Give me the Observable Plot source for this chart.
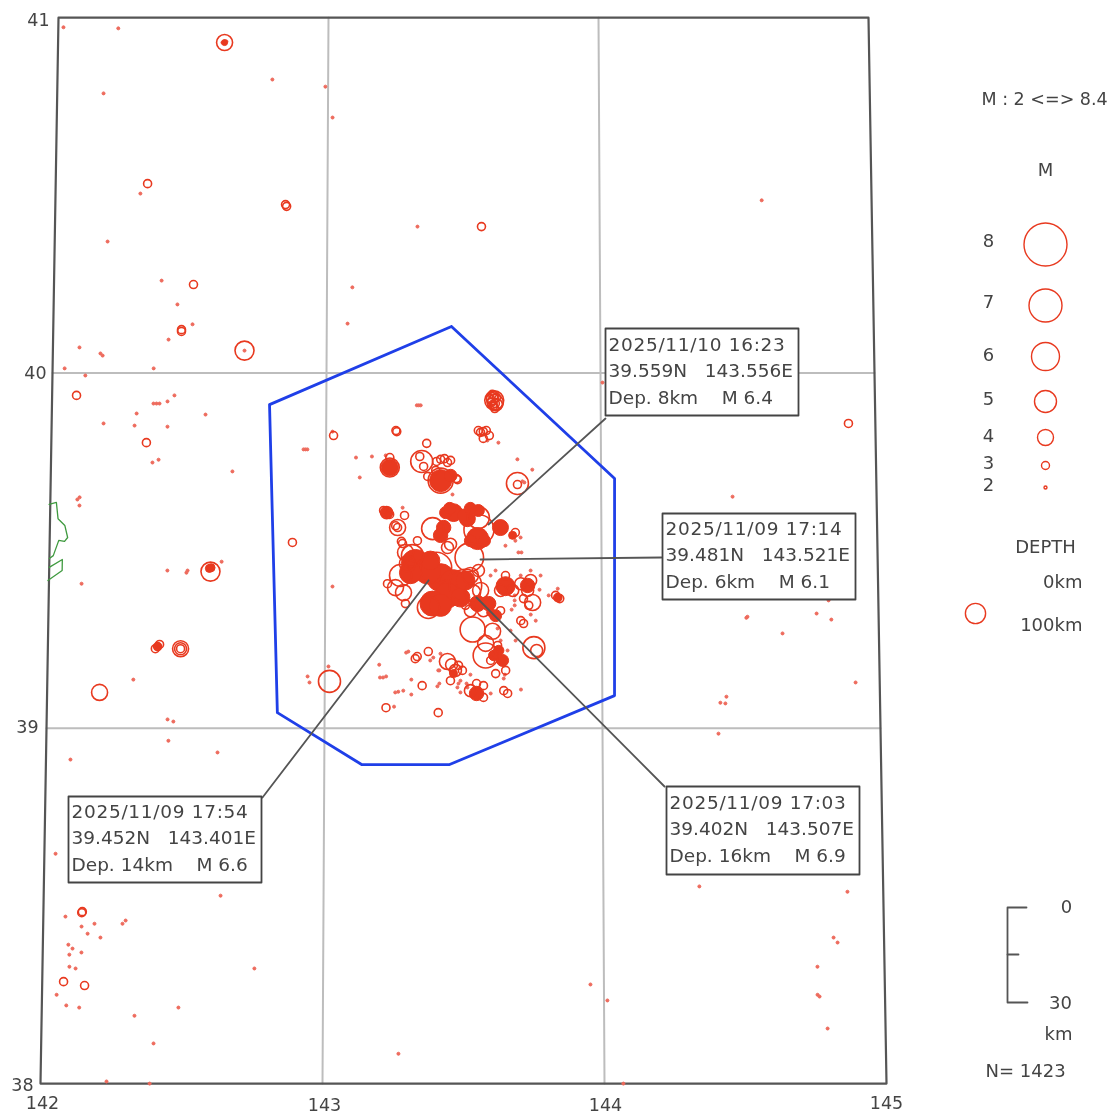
<!DOCTYPE html>
<html><head><meta charset="utf-8">
<script src="https://cdn.jsdelivr.net/npm/d3@7"></script>
<script src="https://cdn.jsdelivr.net/npm/@observablehq/plot@0.6"></script>
<style>html,body{margin:0;padding:0;background:#fff}svg{display:block;filter:blur(0.55px)}</style>
</head><body><div id="c"></div>
<script>
// ---------- data: [lon, lat] per magnitude class ----------
const m2 = [[142.019,40.973],[142.222,40.97],[142.794,40.826],[142.171,40.787],[142.99,40.806],[143.017,40.719],[142.312,40.505],[142.194,40.37],[142.394,40.26],[142.453,40.193],[142.509,40.137],[142.422,40.094],[142.097,40.072],[142.182,40.049],[142.174,40.055],[142.044,40.013],[142.369,40.013],[142.12,39.993],[142.446,39.937],[142.421,39.92],[142.381,39.914],[142.37,39.914],[142.392,39.914],[142.309,39.886],[142.189,39.858],[142.302,39.852],[142.422,39.849],[142.56,39.883],[142.391,39.756],[142.369,39.748],[142.66,39.723],[142.106,39.65],[142.098,39.644],[142.106,39.627],[142.428,39.444],[142.497,39.438],[142.501,39.444],[142.624,39.469],[142.118,39.407],[142.31,39.137],[142.435,39.025],[142.456,39.019],[142.439,38.965],[142.616,38.932],[142.088,38.912],[142.04,38.647],[142.632,38.529],[142.079,38.47],[142.183,38.45],[142.137,38.442],[142.159,38.422],[142.205,38.411],[142.294,38.459],[142.283,38.45],[142.091,38.391],[142.106,38.38],[142.095,38.363],[142.138,38.369],[142.096,38.329],[142.118,38.324],[142.755,38.324],[142.052,38.25],[142.087,38.22],[142.133,38.214],[142.33,38.191],[142.486,38.214],[142.399,38.113],[142.234,38.006],[142.387,38],[143.331,40.412],[143.093,40.241],[143.076,40.139],[144.596,40.486],[144.007,39.973],[144.477,39.652],[144.526,39.314],[144.522,39.311],[144.776,39.323],[144.829,39.306],[144.82,39.36],[144.652,39.267],[144.913,39.129],[144.447,39.089],[144.425,39.072],[144.443,39.07],[144.417,38.985],[144.343,38.555],[144.872,38.54],[144.82,38.411],[144.834,38.397],[144.761,38.329],[144.76,38.25],[144.767,38.245],[144.794,38.155],[143.952,38.279],[144.012,38.234],[143.269,38.084],[144.067,38],[143.023,39.835],[142.925,39.785],[142.918,39.785],[142.932,39.785],[143.026,39.399],[143.013,39.174],[142.938,39.146],[142.945,39.129],[142.608,40.93],[142.616,40.933],[142.623,40.933],[142.7,40.063],
[143.33,39.909],[143.337,39.909],[143.344,39.909],[143.109,39.762],[143.167,39.765],[143.123,39.706],[143.217,39.768],[143.46,39.658],[143.696,39.757],[143.75,39.728],[143.714,39.695],[143.721,39.692],[143.279,39.621],[143.587,39.81],[143.627,39.804],[143.707,39.537],[143.688,39.528],[143.699,39.495],[143.71,39.495],[143.652,39.514],[143.841,39.393],[143.775,39.39],[143.761,39.303],[143.743,39.32],[143.674,39.334],[143.685,39.374],[143.685,39.36],[143.685,39.346],[143.659,39.219],[143.645,39.177],[143.645,39.14],[143.649,39.151],[143.417,39.21],[143.38,39.191],[143.391,39.199],[143.293,39.213],[143.301,39.216],[143.196,39.179],[143.21,39.143],[143.199,39.143],[143.221,39.146],[143.312,39.137],[143.409,39.163],[143.413,39.163],[143.413,39.126],[143.406,39.118],[143.265,39.103],[143.254,39.101],[143.283,39.106],[143.312,39.095],[143.25,39.061],[143.525,39.151],[143.482,39.126],[143.489,39.134],[143.478,39.115],[143.514,39.115],[143.511,39.126],[143.598,39.098],[143.707,39.109],[143.489,39.101],[143.67,39.275],[143.688,39.247],[143.634,39.247],[143.623,39.281],[143.779,39.43],[143.743,39.444],[143.808,39.374],[143.707,39.43],[143.598,39.43],[143.616,39.444]];
const m3 = [[142.338,40.533],[142.85,40.469],[142.846,40.474],[142.511,40.249],[142.469,40.122],[142.469,40.117],[142.089,39.937],[142.346,39.804],[143.566,40.412],[142.396,39.23],[142.388,39.224],[142.403,39.236],[143.027,39.824],[142.88,39.523],[142.139,38.484],[142.137,38.481],[142.076,38.287],[142.151,38.276],[144.902,39.858],[142.479,39.224],
[143.257,39.835],[143.254,39.838],[143.562,39.833],[143.572,39.835],[143.583,39.838],[143.554,39.838],[143.594,39.824],[143.572,39.816],[143.366,39.802],[143.232,39.762],[143.341,39.765],[143.355,39.737],[143.417,39.757],[143.442,39.748],[143.431,39.759],[143.453,39.754],[143.402,39.751],[143.37,39.709],[143.478,39.7],[143.474,39.703],[143.399,39.726],[143.696,39.686],[143.286,39.599],[143.275,39.526],[143.279,39.52],[143.261,39.565],[143.254,39.57],[143.333,39.528],[143.688,39.551],[143.225,39.407],[143.29,39.351],[143.717,39.365],[143.841,39.368],[143.833,39.374],[143.848,39.365],[143.717,39.295],[143.707,39.303],[143.616,39.154],[143.482,39.177],[143.373,39.216],[143.333,39.202],[143.326,39.196],[143.351,39.12],[143.221,39.058],[143.409,39.044],[143.572,39.12],[143.645,39.106],[143.659,39.098],[143.601,39.917],[143.62,39.931],[143.612,39.937],[143.609,39.906],[143.598,39.928],[143.21,39.613],[143.232,39.602],
[143.652,39.43],[143.736,39.346],[143.598,39.191],[143.623,39.233],[143.652,39.163],[143.572,39.087],[143.547,39.126],[143.453,39.134],[143.496,39.163],[143.634,39.331],[143.507,39.346],[143.605,39.94],[143.616,39.914],[143.608,39.912],[143.614,39.9]];
const m35 = [[142.479,39.224],[143.605,39.928],[143.62,39.911],[143.221,39.607],[143.453,39.518],[143.442,39.509],[143.764,39.219],[143.457,39.179],[143.554,39.444],[143.572,39.331],[143.525,39.331],[143.634,39.388],[143.678,39.388],[143.707,39.407],[143.743,39.416],[143.732,39.388],[143.525,39.106],[143.471,39.163]];
const m4 = [[142.616,40.93],[142.479,39.224],[142.189,39.101],[143.616,39.917],[143.261,39.565],[143.254,39.396],[143.283,39.382],[143.75,39.354],[143.605,39.273],[143.58,39.239],[143.442,39.188],[143.29,39.495],[143.297,39.464],[143.533,39.382],[143.562,39.388],[143.525,39.43]];
const m45 = [[142.7,40.063],[142.584,39.441],[143.612,39.923],[143.232,39.734]];
const m5 = [[143.017,39.132],[143.348,39.751],[143.696,39.689],[143.554,39.593],[143.388,39.562],[143.315,39.486],[143.272,39.43],[143.373,39.34],[143.754,39.227]];
const m55 = [[143.417,39.697],[143.533,39.278],[143.58,39.205]];
// saturated patches where the symbols overlap completely: [lon, lat, M]
const patches = [[143.232,39.734,4.2],[143.417,39.697,5],[143.453,39.711,3.6],[143.464,39.607,4.3],[143.435,39.607,3.5],[143.45,39.619,3.5],[143.5,39.6,3.5],[143.514,39.59,4],[143.554,39.613,3.5],[143.525,39.619,3.5],[143.551,39.534,5],[143.525,39.528,3.5],[143.576,39.528,3.5],[143.634,39.565,4],[143.678,39.543,3],[143.428,39.565,3.8],[143.417,39.543,3.8],[143.326,39.464,6],[143.37,39.444,5.8],[143.38,39.472,4.5],[143.417,39.424,6],[143.464,39.407,6],[143.442,39.374,5.5],[143.388,39.351,5.5],[143.417,39.346,5],[143.489,39.368,4.5],[143.507,39.416,4.5],[143.308,39.438,5],[143.652,39.4,4.5],[143.732,39.402,3.8],[143.551,39.351,4],[143.591,39.351,3.8],[143.616,39.317,3.5],[143.598,39.326,3],[143.609,39.205,3.3],[143.641,39.191,3.5],[143.627,39.219,3.3],[143.464,39.154,3],[143.547,39.098,3.8],[142.396,39.23,2.8],[142.58,39.45,3],[142.586,39.452,3],[143.221,39.607,3.4],[142.616,40.93,2.6],[143.841,39.368,2.8]];
const mainshocks = [[143.556,39.559,6.4],[143.521,39.481,6.1],[143.507,39.402,6.9],[143.401,39.452,6.6]];
const region = [[143.456,40.131],[142.793,39.911],[142.83,39.044],[143.134,38.898],[143.45,38.898],[144.044,39.092],[144.049,39.703],[143.456,40.131]];
const coastA = [[141.996,39.63],[142.022,39.636],[142.029,39.59],[142.054,39.571],[142.065,39.537],[142.054,39.526],[142.033,39.529],[142.014,39.486],[142,39.478]];
const coastB = [[142,39.453],[142.047,39.475],[142.047,39.444],[141.996,39.416]];
const gridLons = [143,144], gridLats = [39,40];
const lonTicks = [142,143,144,145], latTicks = [41,40,39,38];
const legendMags = [8,7,6,5,4,3,2];
const callouts = [
 {when:"2025/11/10 16:23", pos:"39.559N\u00a0\u00a0\u00a0143.556E", dep:"Dep. 8km\u00a0\u00a0\u00a0\u00a0M 6.4"},
 {when:"2025/11/09 17:14", pos:"39.481N\u00a0\u00a0\u00a0143.521E", dep:"Dep. 6km\u00a0\u00a0\u00a0\u00a0M 6.1"},
 {when:"2025/11/09 17:03", pos:"39.402N\u00a0\u00a0\u00a0143.507E", dep:"Dep. 16km\u00a0\u00a0\u00a0\u00a0M 6.9"},
 {when:"2025/11/09 17:54", pos:"39.452N\u00a0\u00a0\u00a0143.401E", dep:"Dep. 14km\u00a0\u00a0\u00a0\u00a0M 6.6"}
];

// ---------- map projection of the source figure (straight parallels, converging meridians) ----------
const kAt = lat => 270 + (41 - lat) * 4;
const map = d3.geoTransform({point(lon, lat){
  this.stream.point(463 + (lon - 143.5) * kAt(lat), 372.5 + (40 - lat) * 355.3);
}});
// page layout helper for annotations outside the data
const place = (px, py) => { const lat = 40 + (372.5 - py) / 355.3; return [143.5 + (px - 463) / kAt(lat), lat]; };
const boxPoly = (x0,y0,x1,y1) => ({type:"Polygon",coordinates:[[place(x0,y0),place(x1,y0),place(x1,y1),place(x0,y1),place(x0,y0)]]});

const RED = "#e8391f", PINK = "#ee6a5c", INK = "#444", FONT = "DejaVu Sans";
const rows = [[3,m3],[3.5,m35],[4,m4],[4.5,m45],[5,m5],[5.5,m55]].flatMap(([M,pts]) => pts.map(([lon,lat]) => ({lon,lat,M})));
const quakes = rows.concat(mainshocks.map(([lon,lat,M]) => ({lon,lat,M})));
const small = m2.map(([lon,lat]) => ({lon,lat,M:2}));
const solids = patches.map(([lon,lat,M]) => ({lon,lat,M}));

const boxes = [[605,328,798,415],[662,513,855,599],[666,786,859,874],[68,796,261,882]];
const textAt = [[608,371],[665,555],[669,829],[71,838]];
const leaders = [[[605,418],[488,524]],[[661,557],[480,559]],[[664,786],[476,597]],[[262,797],[428,580]]];
const legendY = [244,305,356,401,437,465,487], legendLabelY = [241,302,355,399,436,463,485];
const txt = (s,px,py,anchor="middle",size=18) => Plot.text([place(px,py)],{x:d=>d[0],y:d=>d[1],text:()=>s,textAnchor:anchor,fontSize:size,fill:INK,fontFamily:FONT});
const path = (pts,o) => Plot.line(pts,{x:d=>d[0],y:d=>d[1],...o});

const chart = Plot.plot({
  width:1112, height:1115, margin:0, projection:map,
  r:{type:"linear",domain:[2,3,4,5,6,7,8],range:[1.5,4,8,11,14,16.5,21.5]},
  style:{background:"#fff",fontFamily:FONT},
  marks:[
    ...gridLons.map(l => path([[l,41],[l,38]],{stroke:"#bdbdbd",strokeWidth:2})),
    ...gridLats.map(l => path([[142,l],[145,l]],{stroke:"#bdbdbd",strokeWidth:2})),
    path([[142,41],[145,41],[145,38],[142,38],[142,41]],{stroke:"#555",strokeWidth:2.2}),
    path(coastA,{stroke:"#3f9a3f",strokeWidth:1.3}),
    path(coastB,{stroke:"#3f9a3f",strokeWidth:1.3}),
    path(region,{stroke:"#1f3fe8",strokeWidth:2.8}),
    Plot.dot(small,{x:"lon",y:"lat",r:"M",fill:PINK,stroke:PINK,strokeWidth:1}),
    Plot.dot(solids,{x:"lon",y:"lat",r:"M",fill:RED,stroke:RED,strokeWidth:1}),
    Plot.dot(quakes,{x:"lon",y:"lat",r:"M",stroke:RED,strokeWidth:1.6,fill:"none"}),
    ...leaders.map(l => path(l.map(p=>place(...p)),{stroke:"#555",strokeWidth:1.8})),
    Plot.geo(boxes.map(b=>boxPoly(...b)),{fill:"#fff",stroke:"#444",strokeWidth:1.8}),
    ...callouts.flatMap((c,i) => [c.when,c.pos,c.dep].map((line,j) => txt(line,textAt[i][0],textAt[i][1]+(j-1)*26.5,"start",18.5))),
    // map tick labels
    ...latTicks.map((v,i) => txt(String(v),[38,35,27,22][i],[20,373,727,1085][i],"middle",17.5)),
    ...lonTicks.map((v,i) => txt(String(v),[42,324,605,886][i],[1103,1105,1105,1103][i],"middle",17.5)),
    // legend
    txt("M : 2 <=> 8.4",981,99,"start",17.5),
    txt("M",1045,170,"middle",18),
    ...legendMags.map((m,i) => txt(String(m),988,legendLabelY[i],"middle",18)),
    Plot.dot(legendMags.map((m,i)=>({p:place(1045,legendY[i]),m})),{x:d=>d.p[0],y:d=>d.p[1],r:"m",stroke:RED,strokeWidth:1.4,fill:"none"}),
    txt("DEPTH",1045,547,"middle",18),
    txt("0km",1082,582,"end",18),
    txt("100km",1082,625,"end",18),
    Plot.dot([place(975,613)],{x:d=>d[0],y:d=>d[1],r:()=>4.7,stroke:RED,strokeWidth:1.4,fill:"none"}),
    // depth scale bar
    path([[1026,907],[1007,907],[1007,1002],[1027,1002]].map(p=>place(...p)),{stroke:"#555",strokeWidth:1.8}),
    path([[1007,954],[1018,954]].map(p=>place(...p)),{stroke:"#555",strokeWidth:1.8}),
    txt("0",1066,907,"middle",18),
    txt("30",1060,1003,"middle",18),
    txt("km",1058,1034,"middle",18),
    txt("N= 1423",985,1071,"start",18)
  ]
});
d3.select(chart).selectAll("text").filter(function(){return /^\d{4}\//.test(this.textContent)}).style("letter-spacing","0.7px");
document.getElementById("c").append(chart);
</script></body></html>
